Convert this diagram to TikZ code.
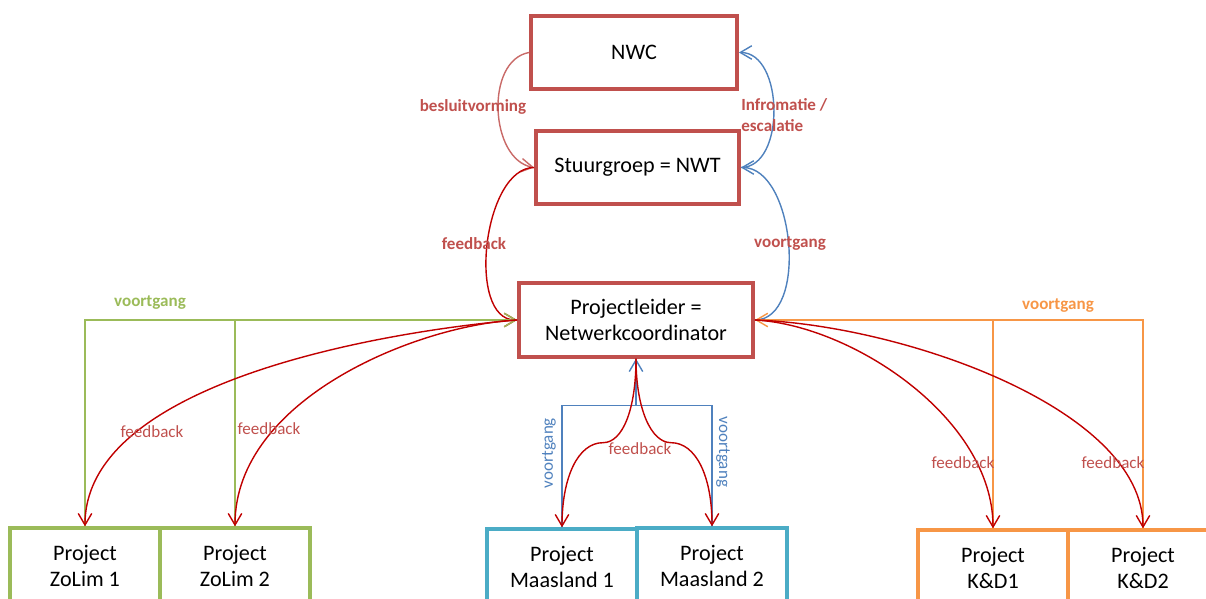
\documentclass[tikz,border=0pt]{standalone}
\usepackage{fontspec}
\setmainfont{Carlito}
\usepackage{tikz}
\usetikzlibrary{arrows.meta,calc}
\definecolor{boxred}{RGB}{192,80,77}
\definecolor{fbred}{RGB}{192,0,0}
\definecolor{fblue}{RGB}{79,129,189}
\definecolor{pgreen}{RGB}{155,187,89}
\definecolor{pcyan}{RGB}{75,172,198}
\definecolor{porange}{RGB}{247,150,70}

\begin{document}
\begin{tikzpicture}[
  font=\fontsize{12.6}{14.8}\selectfont,
  box/.style={rectangle,draw,line width=1.9pt,fill=white,align=center,inner sep=2pt},
  topbox/.style={box,draw=boxred,line width=2.2pt,minimum height=1.47cm},
  projbox/.style={box,minimum width=3cm,minimum height=1.52cm},
  link/.style={line width=.8pt,-{Straight Barb[length=2.3mm,width=2.7mm]}},
  plain/.style={line width=.8pt},
  lbl/.style={font=\fontsize{9.7}{11.9}\selectfont,text=boxred,inner sep=0pt},
  boldlbl/.style={lbl,font=\fontsize{9.7}{11.9}\selectfont\bfseries}
]
\path[use as bounding box,clip] (0,0) rectangle (24.12,-11.98);

% management layers
\node[topbox,minimum width=4.12cm] (nwc) at (12.68,-1.05) {NWC};
\node[topbox,minimum width=4.06cm] (stuurgroep) at (12.75,-3.35) {Stuurgroep = NWT};
\node[topbox,minimum width=4.68cm] (leider) at (12.72,-6.40) {Projectleider =\\Netwerkcoordinator};

% projects
\node[projbox,draw=pgreen] (zolim1) at (1.70,-11.32) {Project\\ZoLim 1};
\node[projbox,draw=pgreen] (zolim2) at (4.70,-11.32) {Project\\ZoLim 2};
\node[projbox,draw=pcyan] (maas1) at (11.24,-11.34) {Project\\Maasland 1};
\node[projbox,draw=pcyan] (maas2) at (14.24,-11.32) {Project\\Maasland 2};
\node[projbox,draw=porange] (kd1) at (19.86,-11.36) {Project\\K\&D1};
\node[projbox,draw=porange] (kd2) at (22.86,-11.36) {Project\\K\&D2};

% NWC <-> Stuurgroep <-> Projectleider
\draw[link,draw=boxred!85] (nwc.west) to[out=190,in=170] (stuurgroep.west);
\draw[link,draw=fblue] (stuurgroep.east) to[out=0,in=0] (nwc.east);
\draw[link,draw=fbred] (stuurgroep.west) to[out=180,in=180,looseness=.85] (leider.west);
\draw[link,draw=fblue] (leider.east) to[out=0,in=0,looseness=.9] (stuurgroep.east);
\node[boldlbl] at (9.46,-2.14) {besluitvorming};
\node[boldlbl,anchor=west,align=left] at (14.82,-2.31) {Infromatie /\\escalatie};
\node[boldlbl] at (9.48,-4.88) {feedback};
\node[boldlbl] at (15.80,-4.88) {voortgang};

% ZoLim
\draw[link,draw=pgreen] (zolim1.north) |- (leider.west);
\draw[plain,draw=pgreen] (zolim2.north) -- (zolim2.north |- leider.west);
\draw[link,draw=fbred] (leider.west) .. controls +(-2.38,-0.2) and +(0,2.96) .. (zolim1.north);
\draw[link,draw=fbred] (leider.west) .. controls +(-1.98,-0.1) and +(0,2.56) .. (zolim2.north);
\node[boldlbl,text=pgreen] at (3.00,-6.06) {voortgang};
\node[lbl] at (3.04,-8.64) {feedback};
\node[lbl] at (5.38,-8.58) {feedback};

% Maasland
\coordinate (maasjoin) at ($(leider.south)+(0,-0.94)$);
\draw[link,draw=fblue] (maas1.north) |- (maasjoin) -- (leider.south);
\draw[plain,draw=fblue] (maas2.north) |- (maasjoin);
\draw[link,draw=fbred] (leider.south) .. controls +(0,-1) and +(0.4,0) .. ($(leider.south)+(-0.66,-1.68)$)
  .. controls +(-0.5,0) and +(0,1) .. (maas1.north);
\draw[link,draw=fbred] (leider.south) .. controls +(0,-1) and +(-0.4,0) .. ($(leider.south)+(0.70,-1.68)$)
  .. controls +(0.5,0) and +(0,1) .. (maas2.north);
\node[lbl] at (12.80,-8.98) {feedback};
\node[lbl,text=fblue,rotate=90] at (10.98,-9.06) {voortgang};
\node[lbl,text=fblue,rotate=-90] at (14.46,-9.04) {voortgang};

% K&D
\draw[link,draw=porange] (kd2.north) |- (leider.east);
\draw[plain,draw=porange] (kd1.north) -- (kd1.north |- leider.east);
\draw[link,draw=fbred] (leider.east) .. controls +(1.94,-0.1) and +(0,2.2) .. (kd1.north);
\draw[link,draw=fbred] (leider.east) .. controls +(2.94,-0.1) and +(0,2.4) .. (kd2.north);
\node[boldlbl,text=porange] at (21.16,-6.12) {voortgang};
\node[lbl] at (19.26,-9.26) {feedback};
\node[lbl] at (22.26,-9.26) {feedback};
\end{tikzpicture}
\end{document}
